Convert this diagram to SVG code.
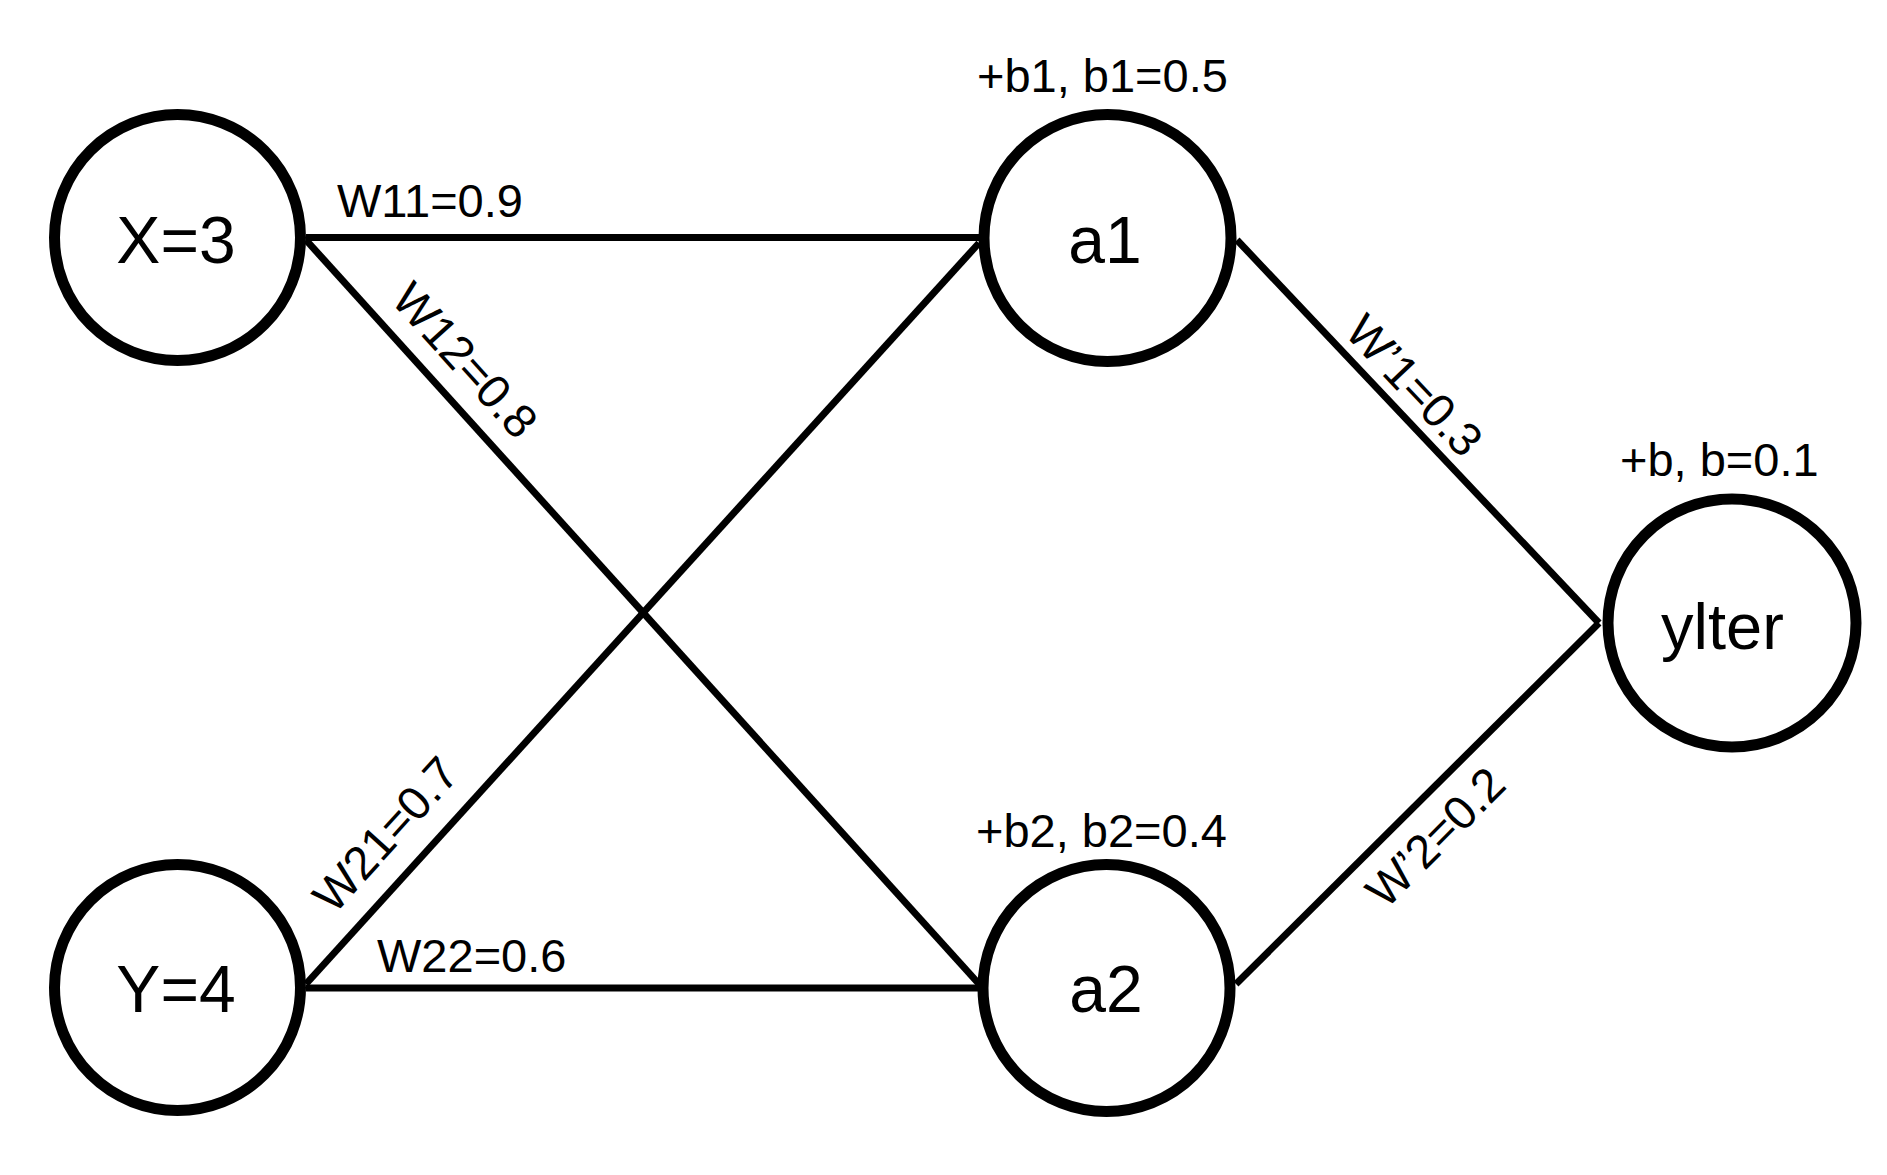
<svg xmlns="http://www.w3.org/2000/svg" width="1887" height="1175" viewBox="0 0 1887 1175">
<style>
.node{fill:#fff;stroke:#000;stroke-width:11}
.edge{stroke:#000;stroke-width:7;fill:none;stroke-linecap:butt}
.t{font-family:"Liberation Sans",Arial,sans-serif;fill:#000}
.big{font-size:66px;text-anchor:middle}
.lbl{font-size:47px}
</style>
<rect width="1887" height="1175" fill="#fff"/>
<g id="connectors">
<line class="edge" x1="306" y1="237.5" x2="979" y2="237.5"/>
<line class="edge" x1="306" y1="240" x2="979" y2="984"/>
<line class="edge" x1="306" y1="984" x2="979" y2="243"/>
<line class="edge" x1="306" y1="988" x2="979" y2="988"/>
<line class="edge" x1="1237" y1="240" x2="1599" y2="623"/>
<line class="edge" x1="1236" y1="984" x2="1599" y2="623"/>
<text class="t lbl" x="337" y="217">W11=0.9</text>
<text class="t lbl" x="377" y="972">W22=0.6</text>
<text class="t lbl" text-anchor="middle" transform="translate(453,371) rotate(47.96)">W12=0.8</text>
<text class="t lbl" text-anchor="middle" transform="translate(397.6,845.4) rotate(-47.8)">W21=0.7</text>
<text class="t lbl" text-anchor="middle" transform="translate(1402.6,396.7) rotate(46.6)">W’1=0.3</text>
<text class="t lbl" text-anchor="middle" transform="translate(1447,848.7) rotate(-45.2)">W’2=0.2</text>
</g>
<g id="node-x">
<circle class="node" cx="177.5" cy="237.5" r="123"/>
<text class="t big" x="176" y="263">X=3</text>
</g>
<g id="node-y">
<circle class="node" cx="177.5" cy="987.5" r="123"/>
<text class="t big" x="176" y="1012">Y=4</text>
</g>
<g id="node-a1">
<circle class="node" cx="1107.5" cy="238" r="123.5"/>
<text class="t big" x="1105" y="263">a1</text>
<text class="t lbl" x="977" y="92">+b1, b1=0.5</text>
</g>
<g id="node-a2">
<circle class="node" cx="1106.5" cy="988" r="123.5"/>
<text class="t big" x="1106" y="1012">a2</text>
<text class="t lbl" x="976" y="847">+b2, b2=0.4</text>
</g>
<g id="node-yiter">
<circle class="node" cx="1732" cy="623" r="124"/>
<text class="t" font-size="65" x="1661" y="649">ylter</text>
<text class="t lbl" x="1620" y="476">+b, b=0.1</text>
</g>
</svg>
